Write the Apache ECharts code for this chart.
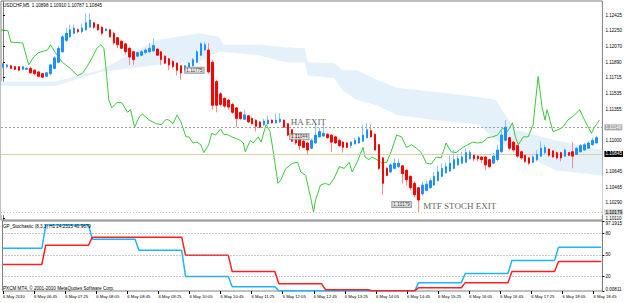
<!DOCTYPE html>
<html>
<head>
<meta charset="utf-8">
<script src="https://cdn.jsdelivr.net/npm/echarts@6/dist/echarts.min.js"></script>
<style>
  html, body { margin: 0; padding: 0; background: #fff; }
  #chart { width: 625px; height: 303px; }
</style>
</head>
<body>
<div id="chart"></div>
<script>
const symbolTitle = 'USDCHF,M5  1.10898 1.10910 1.10787 1.10845';
const stochTitle = 'GP_Stochastic (8,3,3) H1 24.2315 40.9679';
const copyright = 'PXCM MT4, \u00a9 2001-2010 MetaQuotes Software Corp.';

// heiken ashi M5 bars: [open, close, low, high]
const haCandles = [
  [1.1184,1.1187,1.1182,1.1188],[1.1184,1.1186,1.1182,1.1187],[1.1185,1.1182,1.1181,1.1186],[1.1184,1.1181,1.1180,1.1185],
  [1.1184,1.1180,1.1179,1.1184],[1.1181,1.1184,1.1180,1.1185],[1.1181,1.1182,1.1180,1.1184],[1.1182,1.1177,1.1176,1.1184],
  [1.1180,1.1176,1.1174,1.1181],[1.1178,1.1173,1.1172,1.1179],[1.1176,1.1172,1.1171,1.1177],[1.1173,1.1177,1.1172,1.1178],
  [1.1176,1.1186,1.1174,1.1187],[1.1182,1.1194,1.1181,1.1196],[1.1189,1.1205,1.1188,1.1208],[1.1201,1.1218,1.1200,1.1220],
  [1.1214,1.1222,1.1212,1.1228],[1.1218,1.1226,1.1217,1.1232],[1.1222,1.1228,1.1221,1.1232],[1.1226,1.1224,1.1222,1.1228],
  [1.1224,1.1228,1.1222,1.1233],[1.1226,1.1234,1.1225,1.1245],[1.1229,1.1237,1.1228,1.1245],[1.1234,1.1229,1.1227,1.1235],
  [1.1232,1.1226,1.1225,1.1233],[1.1229,1.1222,1.1220,1.1230],[1.1225,1.1227,1.1224,1.1228],[1.1226,1.1218,1.1217,1.1227],
  [1.1222,1.1211,1.1209,1.1224],[1.1217,1.1209,1.1205,1.1218],[1.1213,1.1205,1.1204,1.1214],[1.1210,1.1201,1.1198,1.1211],
  [1.1205,1.1195,1.1186,1.1206],[1.1201,1.1192,1.1186,1.1202],[1.1196,1.1200,1.1195,1.1201],[1.1197,1.1201,1.1196,1.1203],
  [1.1200,1.1203,1.1198,1.1205],[1.1201,1.1205,1.1200,1.1211],[1.1202,1.1208,1.1201,1.1216],[1.1204,1.1197,1.1196,1.1205],
  [1.1201,1.1192,1.1186,1.1202],[1.1196,1.1188,1.1187,1.1197],[1.1193,1.1186,1.1180,1.1194],[1.1190,1.1184,1.1182,1.1192],
  [1.1188,1.1180,1.1174,1.1189],[1.1185,1.1177,1.1169,1.1186],[1.1180,1.1185,1.1179,1.1186],[1.1182,1.1188,1.1181,1.1189],
  [1.1185,1.1192,1.1184,1.1194],[1.1189,1.1201,1.1188,1.1203],[1.1197,1.1210,1.1196,1.1212],[1.1203,1.1209,1.1202,1.1212],
  [1.1203,1.1178,1.1176,1.1211],[1.1189,1.1140,1.1135,1.1192],[1.1167,1.1140,1.1132,1.1169],[1.1153,1.1141,1.1139,1.1155],
  [1.1148,1.1139,1.1137,1.1149],[1.1146,1.1138,1.1135,1.1147],[1.1141,1.1132,1.1130,1.1143],[1.1137,1.1125,1.1115,1.1138],
  [1.1132,1.1125,1.1123,1.1133],[1.1124,1.1129,1.1123,1.1135],[1.1128,1.1121,1.1120,1.1129],[1.1125,1.1119,1.1118,1.1127],
  [1.1123,1.1116,1.1110,1.1124],[1.1121,1.1115,1.1114,1.1122],[1.1118,1.1122,1.1116,1.1125],[1.1119,1.1123,1.1118,1.1128],
  [1.1123,1.1120,1.1119,1.1124],[1.1120,1.1123,1.1119,1.1130],[1.1121,1.1124,1.1120,1.1131],[1.1123,1.1115,1.1114,1.1124],
  [1.1119,1.1106,1.1105,1.1120],[1.1112,1.1099,1.1098,1.1113],[1.1107,1.1097,1.1095,1.1108],[1.1103,1.1094,1.1089,1.1104],
  [1.1099,1.1092,1.1091,1.1100],[1.1097,1.1089,1.1083,1.1098],[1.1091,1.1100,1.1090,1.1102],[1.1097,1.1106,1.1096,1.1120],
  [1.1104,1.1110,1.1103,1.1114],[1.1105,1.1108,1.1104,1.1118],[1.1107,1.1103,1.1102,1.1108],[1.1106,1.1098,1.1087,1.1107],
  [1.1104,1.1097,1.1096,1.1105],[1.1100,1.1094,1.1092,1.1102],[1.1098,1.1092,1.1086,1.1099],[1.1097,1.1092,1.1091,1.1098],
  [1.1094,1.1098,1.1091,1.1099],[1.1096,1.1100,1.1095,1.1103],[1.1097,1.1103,1.1096,1.1105],[1.1099,1.1106,1.1098,1.1118],
  [1.1103,1.1112,1.1102,1.1120],[1.1111,1.1104,1.1103,1.1118],[1.1107,1.1089,1.1088,1.1108],[1.1095,1.1068,1.1066,1.1096],
  [1.1080,1.1051,1.1038,1.1081],[1.1068,1.1060,1.1059,1.1070],[1.1064,1.1072,1.1063,1.1074],[1.1068,1.1074,1.1067,1.1080],
  [1.1070,1.1074,1.1068,1.1079],[1.1071,1.1062,1.1051,1.1072],[1.1066,1.1055,1.1049,1.1067],[1.1059,1.1046,1.1043,1.1060],
  [1.1051,1.1038,1.1035,1.1053],[1.1046,1.1032,1.1017,1.1047],[1.1039,1.1049,1.1037,1.1053],[1.1043,1.1050,1.1042,1.1054],
  [1.1046,1.1054,1.1045,1.1057],[1.1049,1.1059,1.1048,1.1064],[1.1054,1.1064,1.1053,1.1071],[1.1059,1.1068,1.1058,1.1074],
  [1.1063,1.1070,1.1062,1.1075],[1.1065,1.1074,1.1064,1.1083],[1.1068,1.1078,1.1067,1.1089],[1.1072,1.1079,1.1071,1.1083],
  [1.1074,1.1081,1.1073,1.1087],[1.1075,1.1086,1.1074,1.1091],[1.1079,1.1086,1.1078,1.1089],[1.1083,1.1079,1.1076,1.1084],
  [1.1082,1.1079,1.1076,1.1083],[1.1081,1.1078,1.1074,1.1082],[1.1081,1.1072,1.1066,1.1082],[1.1078,1.1070,1.1068,1.1079],
  [1.1074,1.1082,1.1073,1.1086],[1.1078,1.1089,1.1076,1.1095],[1.1087,1.1106,1.1086,1.1112],[1.1100,1.1115,1.1099,1.1123],
  [1.1103,1.1091,1.1089,1.1104],[1.1098,1.1089,1.1087,1.1099],[1.1094,1.1082,1.1080,1.1095],[1.1087,1.1080,1.1078,1.1088],
  [1.1083,1.1076,1.1074,1.1084],[1.1080,1.1074,1.1072,1.1081],[1.1075,1.1081,1.1074,1.1083],[1.1078,1.1084,1.1076,1.1089],
  [1.1082,1.1091,1.1081,1.1099],[1.1086,1.1092,1.1084,1.1095],[1.1090,1.1083,1.1081,1.1091],[1.1088,1.1081,1.1080,1.1089],
  [1.1086,1.1080,1.1078,1.1087],[1.1086,1.1080,1.1076,1.1087],[1.1082,1.1089,1.1081,1.1091],[1.1086,1.1083,1.1082,1.1087],
  [1.1087,1.1082,1.1068,1.1098],[1.1084,1.1091,1.1083,1.1092],[1.1087,1.1094,1.1086,1.1096],[1.1089,1.1095,1.1088,1.1097],
  [1.1091,1.1097,1.1090,1.1099],[1.1095,1.1100,1.1094,1.1103],[1.1097,1.1103,1.1096,1.1105]
];

// green line, [bar, price]
const greenLine = [
  [-0.5,1.1226],[1.25,1.1225],[2,1.1212],[5,1.1211],[6.5,1.1186],[7.75,1.1195],[9,1.1200],[11.25,1.1203],
  [12,1.1209],[13.25,1.1200],[15,1.1189],[17,1.1182],[18.75,1.1174],[20,1.1176],[21.25,1.1184],[22.5,1.1194],
  [23.75,1.1205],[24.75,1.1209],[25.5,1.1205],[26,1.1184],[26.75,1.1146],[27.5,1.1137],[28.75,1.1143],[30,1.1143],
  [31.5,1.1132],[32.25,1.1135],[33.25,1.1115],[34.5,1.1127],[35.25,1.1130],[37,1.1123],[38.75,1.1119],[40,1.1118],
  [41.25,1.1124],[42,1.1123],[43,1.1119],[44,1.1129],[45,1.1121],[46.25,1.1104],[47,1.1104],[48,1.1097],
  [49,1.1098],[50,1.1095],[50.75,1.1086],[52,1.1095],[52.75,1.1108],[53.75,1.1106],[55,1.1113],[55.75,1.1107],
  [57,1.1106],[57.75,1.1104],[59,1.1102],[60,1.1100],[60.75,1.1097],[61.25,1.1087],[62.5,1.1100],[63.25,1.1097],
  [64.5,1.1104],[65.25,1.1098],[66.5,1.1118],[67.5,1.1110],[68.25,1.1089],[69.5,1.1051],[70.25,1.1055],[71.5,1.1068],
  [73.25,1.1074],[74.5,1.1075],[75.25,1.1064],[76.5,1.1060],[77.75,1.1035],[78.5,1.1018],[79,1.1032],[80.25,1.1049],
  [81.5,1.1051],[82.5,1.1049],[83.75,1.1057],[85,1.1070],[86.25,1.1068],[87.5,1.1075],[88.25,1.1064],[89.5,1.1075],
  [91,1.1092],[91.5,1.1081],[92.5,1.1078],[93.25,1.1081],[94.5,1.1078],[95.75,1.1074],[97,1.1075],[98.25,1.1089],
  [99.5,1.1106],[100.75,1.1104],[102,1.1092],[103.25,1.1095],[104.5,1.1091],[105.75,1.1086],[107,1.1074],[108.25,1.1073],
  [109.5,1.1081],[110.75,1.1080],[112,1.1097],[113.25,1.1087],[114.5,1.1086],[116.25,1.1092],[117.5,1.1095],[118.75,1.1098],
  [120,1.1097],[121.25,1.1098],[122.5,1.1103],[123.75,1.1104],[125,1.1106],[126.25,1.1114],[127.5,1.1110],[128.75,1.1120],
  [129.5,1.1104],[130.25,1.1095],[131.5,1.1104],[132.75,1.1104],[134,1.1118],[135.25,1.1173],[136.25,1.1138],[137,1.1123],
  [137.5,1.1135],[138.25,1.1123],[139,1.1110],[140.25,1.1112],[141.5,1.1115],[142.75,1.1123],[144.5,1.1129],[145.75,1.1135],
  [147,1.1123],[148.75,1.1108],[149.5,1.1115],[150.75,1.1123]
];

// ichimoku cloud edges
const cloudBars  = [-0.5, 13.25, 24.5, 38.75, 49.5, 54.5, 55.75, 64.5, 71.5, 76.25, 77, 83.75, 85.75, 89.5, 94.5, 99.5, 109.5, 120.25, 124.5, 129.5, 139.5, 151.5];
const cloudUpper = [1.1167, 1.1167, 1.1180, 1.1214, 1.1222, 1.1218, 1.1209, 1.1209, 1.1206, 1.1205, 1.1189, 1.1188, 1.1180, 1.1180, 1.1169, 1.1160, 1.1155, 1.1149, 1.1146, 1.1112, 1.1100, 1.1089];
const cloudLower = [1.1162, 1.1162, 1.1178, 1.1186, 1.1189, 1.1201, 1.1201, 1.1197, 1.1189, 1.1189, 1.1174, 1.1171, 1.1157, 1.1146, 1.1140, 1.1129, 1.1123, 1.1118, 1.1100, 1.1089, 1.1066, 1.1060];

// right scale labels (the ones under the price boxes are not shown)
const priceTicks = [1.12425, 1.12250, 1.12070, 1.11890, 1.11715, 1.11535, 1.11355, 1.11000, 1.10645, 1.10465, 1.10290, 1.10110];
const exitLevel = 1.11148;
const bidLevel = 1.10845;
const stopLevel = 1.10179;

const tagBars = [48.4, 74.9, 100.75];
const tagPrices = [1.1180, 1.1104, 1.1027];
const tagTexts = ['1.11775', '1.11044', '1.10179'];

const noteBars = [72.75, 106.25];
const notePrices = [1.1121, 1.1025];
const noteTexts = ['HA EXIT', 'MTF STOCH EXIT'];

// H1 stochastic, one value per hour 06:00 .. 18:00
const stochHours = ['06','07','08','09','10','11','12','13','14','15','16','17','18'];
const stochMain   = [59.3, 91.6, 72.0, 56.5, 20.0, 6.0, 0.4, 0.4, 0.4, 11.6, 24.3, 42.5, 60.7];
const stochSignal = [36.9, 63.5, 74.8, 74.8, 49.5, 27.0, 10.2, 1.8, 0.4, 4.6, 11.6, 27.0, 41.0];
const stochLevels = [20, 50, 80];
const stochMax = 97.1915;
const stochMaxLabel = '97.1915';
const stochMinLabel = '0.00811';

const timeLabels = ['6 May 2010', '6 May 06:45', '6 May 07:25', '6 May 08:05', '6 May 08:45', '6 May 09:25',
  '6 May 10:05', '6 May 10:45', '6 May 11:25', '6 May 12:05', '6 May 12:45', '6 May 13:25', '6 May 14:05',
  '6 May 14:45', '6 May 15:25', '6 May 16:05', '6 May 16:45', '6 May 17:25', '6 May 18:05', '6 May 18:45'];

const chart = echarts.init(document.getElementById('chart'), null, { renderer: 'svg' });

const font = 'Liberation Sans';
const small = 4.6;
const categories = haCandles.map((_, i) => String(i)).concat(['']);
const bodies = haCandles.map(c => [c[0], c[1], Math.min(c[0], c[1]), Math.max(c[0], c[1])]);
const kumoTop = cloudBars.map((b, i) => [b, cloudUpper[i]]);
const kumoBottom = cloudBars.map((b, i) => [b, cloudLower[i]]);
const timeTicks = timeLabels.map((_, k) => 5 + 40 * k); // minutes after 06:00

function stochPoints(values) {
  const pts = [];
  values.forEach((v, k) => {
    pts.push([k === 0 ? 5 : k * 60, v]);
    pts.push([k * 60 + 55, v]);
  });
  return pts;
}

function priceTag(value, bg, fg, lineColor, type) {
  return {
    yAxis: value,
    lineStyle: { color: lineColor, type: type, width: 1 },
    label: {
      show: true, position: 'end', distance: 2, formatter: value.toFixed(5),
      fontSize: small, fontFamily: font, color: fg, backgroundColor: bg,
      padding: [1, 1, 0, 1]
    }
  };
}

const titleStyle = { fontSize: small, fontFamily: font, fontWeight: 'normal', color: '#000' };

chart.setOption({
  animation: false,
  backgroundColor: '#fff',
  title: [
    { text: symbolTitle, left: 3, top: 3, padding: 0, textStyle: titleStyle },
    { text: stochTitle, left: 3, top: 224, padding: 0, textStyle: titleStyle },
    { text: copyright, left: 3, top: 286, padding: 0, textStyle: titleStyle }
  ],
  grid: [
    { left: 1, right: 19, top: 1, height: 219, show: true, borderColor: '#808080', borderWidth: 1 },
    { left: 1, right: 19, top: 221, height: 70, show: true, borderColor: '#808080', borderWidth: 1 }
  ],
  xAxis: [
    { type: 'category', gridIndex: 0, data: categories, boundaryGap: true, show: false },
    { type: 'value', gridIndex: 0, min: -0.5, max: categories.length - 0.5, show: false },
    {
      type: 'value', gridIndex: 1, min: 4.36, max: 776.5,
      axisLine: { show: false },
      splitLine: { show: false },
      axisTick: { show: true, customValues: timeTicks, length: 3, lineStyle: { color: '#000' } },
      axisLabel: {
        show: true, customValues: timeTicks, align: 'left', margin: 3,
        fontSize: 4.2, fontFamily: font, color: '#000',
        formatter: v => timeLabels[Math.round((v - 5) / 40)]
      }
    }
  ],
  yAxis: [
    {
      type: 'value', gridIndex: 0, position: 'right', min: 1.10092, max: 1.125886,
      axisLine: { show: true, lineStyle: { color: '#808080' } },
      splitLine: { show: false },
      axisTick: { show: true, customValues: priceTicks, length: 2, lineStyle: { color: '#000' } },
      axisLabel: {
        show: true, customValues: priceTicks, margin: 3,
        fontSize: small, fontFamily: font, color: '#000',
        formatter: v => v.toFixed(5)
      }
    },
    {
      type: 'value', gridIndex: 1, position: 'right', min: 0, max: stochMax,
      axisLine: { show: true, lineStyle: { color: '#808080' } },
      splitLine: { show: false },
      axisTick: { show: true, customValues: [0].concat(stochLevels, [stochMax]), length: 2, lineStyle: { color: '#000' } },
      axisLabel: {
        show: true, customValues: [0].concat(stochLevels, [stochMax]), margin: 3,
        fontSize: small, fontFamily: font, color: '#000',
        formatter: v => v === 0 ? '{low|' + stochMinLabel + '}' : (v === stochMax ? '{high|' + stochMaxLabel + '}' : String(v)),
        rich: {
          high: { fontSize: small, fontFamily: font, color: '#000', padding: [5, 0, 0, 0] },
          low: { fontSize: small, fontFamily: font, color: '#000', padding: [0, 0, 3, 0] }
        }
      }
    }
  ],
  series: [
    {
      name: 'kumo top', type: 'line', xAxisIndex: 1, yAxisIndex: 0,
      data: kumoTop, symbol: 'none', lineStyle: { opacity: 0 }, silent: true, z: 1,
      areaStyle: { color: '#E4F0FA', opacity: 1, origin: 1.1015 }
    },
    {
      name: 'kumo bottom', type: 'line', xAxisIndex: 1, yAxisIndex: 0,
      data: kumoBottom, symbol: 'none', lineStyle: { opacity: 0 }, silent: true, z: 1,
      areaStyle: { color: '#fff', opacity: 1, origin: 1.1015 }
    },
    {
      name: 'chikou', type: 'line', xAxisIndex: 1, yAxisIndex: 0,
      data: greenLine, symbol: 'none', lineStyle: { color: '#3CC83C', width: 1 }, z: 3,
      markLine: {
        silent: true, symbol: ['none', 'none'], animation: false, precision: 5,
        data: [
          priceTag(exitLevel, '#A8A8A8', '#fff', '#A0A0A0', [2, 2]),
          priceTag(bidLevel, '#000', '#fff', '#D8D0A8', 'solid'),
          priceTag(stopLevel, '#D0D0D0', '#000', '#D8C4A8', [1, 2])
        ]
      }
    },
    {
      name: 'wicks', type: 'candlestick', xAxisIndex: 0, yAxisIndex: 0, data: haCandles, barWidth: 0.1,
      itemStyle: { color: '#8EC4FF', color0: '#FF8A8A', borderColor: '#8EC4FF', borderColor0: '#FF8A8A', borderWidth: 1 },
      z: 4
    },
    {
      name: 'bodies', type: 'candlestick', xAxisIndex: 0, yAxisIndex: 0, data: bodies, barWidth: 2,
      itemStyle: { color: '#1E90FF', color0: '#FF0000', borderColor: '#1E90FF', borderColor0: '#FF0000', borderWidth: 1 },
      z: 5
    },
    {
      name: 'tags', type: 'scatter', xAxisIndex: 1, yAxisIndex: 0, symbolSize: 0, z: 6, silent: true,
      data: tagBars.map((b, i) => [b, tagPrices[i]]),
      label: {
        show: true, position: 'inside', fontSize: small, fontFamily: font, color: '#000',
        backgroundColor: '#E8E8E8', borderColor: '#808080', borderWidth: 1, padding: [0, 1],
        formatter: p => tagTexts[p.dataIndex]
      }
    },
    {
      name: 'notes', type: 'scatter', xAxisIndex: 1, yAxisIndex: 0, symbolSize: 0, z: 6, silent: true,
      data: noteBars.map((b, i) => [b, notePrices[i]]),
      label: {
        show: true, position: 'right', distance: 0, fontSize: 9, fontFamily: 'Liberation Serif', color: '#333',
        formatter: p => noteTexts[p.dataIndex]
      }
    },
    {
      name: 'stoch main', type: 'line', xAxisIndex: 2, yAxisIndex: 1,
      data: stochPoints(stochMain), symbol: 'none', lineStyle: { color: '#1EB4FF', width: 1.5 }, z: 4,
      markLine: {
        silent: true, symbol: ['none', 'none'], label: { show: false }, precision: 5,
        lineStyle: { color: '#909090', type: [1, 2], width: 1 },
        data: stochLevels.map(v => ({ yAxis: v }))
      }
    },
    {
      name: 'stoch signal', type: 'line', xAxisIndex: 2, yAxisIndex: 1,
      data: stochPoints(stochSignal), symbol: 'none', lineStyle: { color: '#FF2020', width: 1.5 }, z: 4
    }
  ]
});
</script>
</body>
</html>
